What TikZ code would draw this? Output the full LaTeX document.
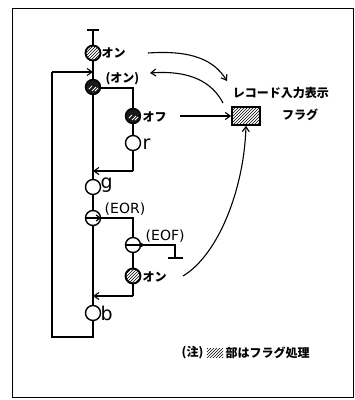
\documentclass[tikz,border=0pt]{standalone}
\usepackage{fontspec}
\setmainfont{DejaVu Sans}
\newfontfamily\jp{Noto Sans CJK JP}
\usetikzlibrary{arrows.meta,patterns}
\begin{document}
\begin{tikzpicture}[x=1pt,y=-1pt,
  line width=1.4pt,
  arr/.style={-{Straight Barb[length=5pt,width=7pt]},line width=1.1pt},
  blank/.style={circle,draw,fill=white,minimum size=15pt,inner sep=0pt,line width=1.4pt},
  hatch/.style={circle,draw,minimum size=15pt,inner sep=0pt,line width=1.9pt,
    pattern=north east lines,pattern color=black},
  dark/.style={circle,draw,fill=black!90,minimum size=15pt,inner sep=0pt,line width=1.4pt},
  glint/.style={white,line width=0.9pt},
  jlab/.style={anchor=west,inner sep=0pt,font=\jp\bfseries\fontsize{12}{14}\selectfont},
  elab/.style={anchor=west,inner sep=0pt,font=\fontsize{14}{16}\selectfont},
  letter/.style={anchor=west,inner sep=0pt,font=\fontsize{19}{21}\selectfont}]
\useasboundingbox (0,0) rectangle (355,400);
\draw[line width=1pt] (12,8) rectangle (353,397);

% main column
\coordinate (top) at (93,30);
\node[hatch] (c1) at (93,53) {};
\node[dark] (c2) at (93,87) {};
\node[blank] (g) at (93,187) {};
\node[blank] (eor) at (93,218) {};
\node[blank] (b) at (93,313) {};
\coordinate (bot) at (93,337);
\coordinate (botl) at (52,337);
\coordinate (topl) at (52,72);
\coordinate (loopin) at (93,72);

% branch 1
\coordinate (br1a) at (133,88);
\node[dark] (c3) at (133,116) {};
\node[blank] (r) at (133,143) {};
\coordinate (br1b) at (133,171);
\coordinate (j1) at (93,171);

% branch 2
\coordinate (br2a) at (133,218);
\node[blank] (eof) at (133,245) {};
\node[hatch] (c5) at (133,276) {};
\coordinate (br2b) at (133,296);
\coordinate (j2) at (93,296);
\coordinate (eofc) at (175,245);
\coordinate (eofe) at (175,258);
\coordinate (tl) at (168,258);
\coordinate (tr) at (183,258);

% lines
\draw (87,30) -- (99,30);
\draw (top) -- (c1) -- (c2) -- (g) -- (eor) -- (b) -- (bot) -- (botl) -- (topl);
\draw[arr] (topl) -- (loopin);
\draw (c2.east |- br1a) -- (br1a) -- (c3) -- (r) -- (br1b);
\draw[arr] (br1b) -- (j1);
\draw (eor.east) -- (br2a) -- (eof) -- (c5) -- (br2b);
\draw[arr] (br2b) -- (j2);
\draw (eof.east) -- (eofc) -- (eofe);
\draw (tl) -- (tr);

% white hatch strokes in dark circles
\foreach \n in {c2,c3}{
  \draw[glint] ([shift={(-4,2)}]\n.center) -- ([shift={(-1,-1)}]\n.center);
  \draw[glint] ([shift={(-1,4)}]\n.center) -- ([shift={(3,0)}]\n.center);
  \draw[glint] ([shift={(2,4)}]\n.center) -- ([shift={(5,1)}]\n.center);
}

% symbols inside circles
\draw[-{Straight Barb[length=3.5pt,width=6pt]},line width=1.2pt] (eor.west) -- ([xshift=-0.5pt]eor.east);
\draw[line width=1.2pt] (eof.west) -- (eof.east);
\fill (eof.east) circle (2pt);

% labels
\node[jlab] (l1) at (101,53) {オン};
\node[jlab] (l2) at (105,79) {(オン)};
\node[jlab] (l3) at (142,117) {オフ};
\node[letter] (lr) at (142,144) {r};
\node[letter] (lg) at (100,185) {g};
\node[elab] (leor) at (104,209) {(EOR)};
\node[elab] (leof) at (145,236) {(EOF)};
\node[jlab] (l5) at (142,277) {オン};
\node[letter] (lb) at (100,313) {b};

% flag
\node[draw,line width=1.6pt,minimum width=28pt,minimum height=18pt,inner sep=0pt,
  pattern=north east lines] (flag) at (246,116) {};
\node[inner sep=0pt,font=\jp\bfseries\fontsize{12}{14}\selectfont] (fl1) at (281,93) {レコード入力表示};
\node[inner sep=0pt,font=\jp\bfseries\fontsize{12}{14}\selectfont] (fl2) at (300,115) {フラグ};

% connectors to flag
\coordinate (a1s) at (148,53);
\coordinate (a1e) at (227,81);
\draw[arr] (a1s) .. controls (192,50) and (214,60) .. (a1e);
\coordinate (a2s) at (223,103);
\coordinate (a2e) at (150,73);
\draw[arr] (a2s) .. controls (212,82) and (190,70) .. (a2e);
\coordinate (a3s) at (180,116);
\draw[arr] (a3s) -- (flag.west);
\coordinate (a4s) at (183,276);
\draw[arr] (a4s) .. controls (218,255) and (244,190) .. (flag.south);

% footnote
\node[anchor=west,inner sep=0pt,font=\jp\bfseries\fontsize{12}{14}\selectfont] (n1) at (181,353) {(注)};
\node[inner sep=0pt,minimum width=16pt,minimum height=9pt,pattern=north east lines] (n2) at (215,353) {};
\node[anchor=west,inner sep=0pt,font=\jp\bfseries\fontsize{12}{14}\selectfont] (n3) at (225,353) {部はフラグ処理};
\end{tikzpicture}
\end{document}
